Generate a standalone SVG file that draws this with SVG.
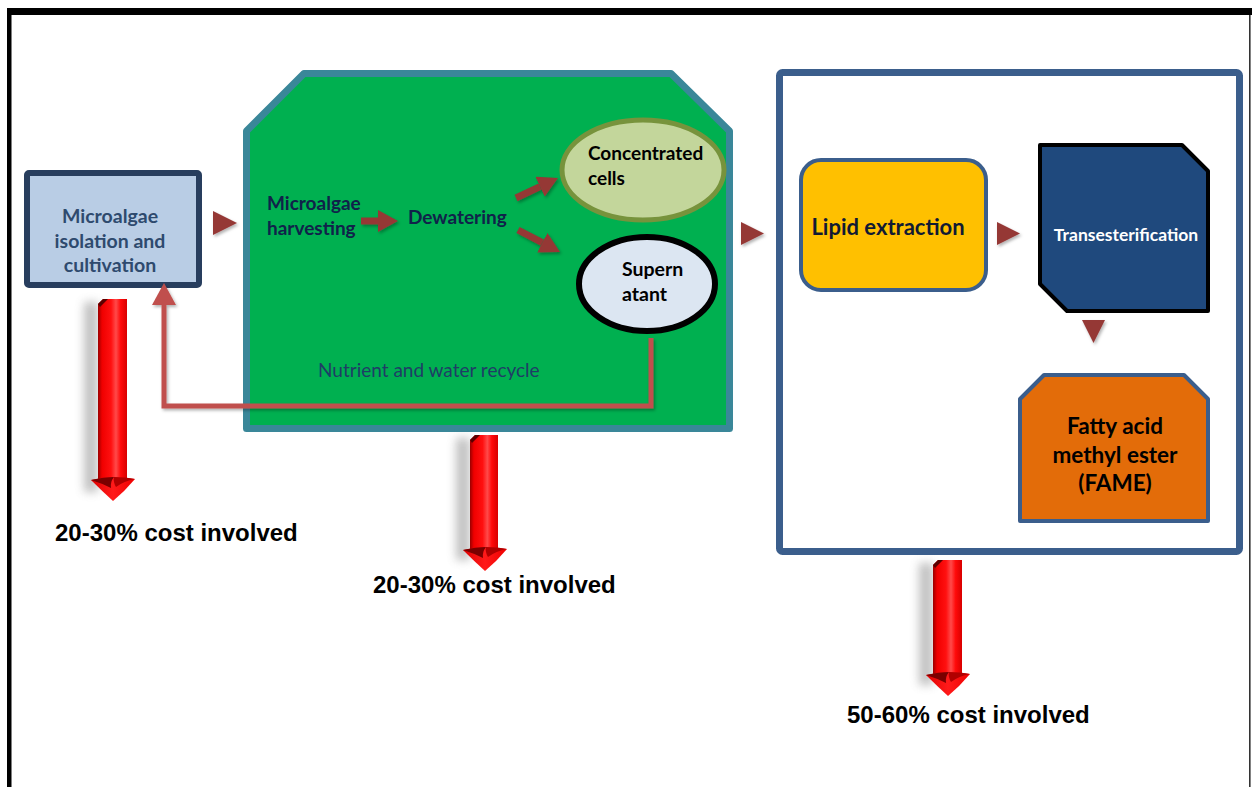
<svg xmlns="http://www.w3.org/2000/svg" xmlns:xlink="http://www.w3.org/1999/xlink" width="1252" height="787" viewBox="0 0 1252 787">
  <style>
    .calb { font-family: Lato, "Open Sans", "Liberation Sans", sans-serif; font-weight: bold; }
    .calr { font-family: Lato, "Open Sans", "Liberation Sans", sans-serif; font-weight: normal; }
    .cost { font-family: "Liberation Sans", Arial, sans-serif; font-weight: bold; font-size: 24px; fill: #000; }
    .flow { fill: #953735; filter: url(#soft); }
    .flowline { stroke: #953735; stroke-width: 7; fill: none; }
  </style>
  <defs>
    <filter id="soft" x="-30%" y="-30%" width="160%" height="160%">
      <feDropShadow dx="1.5" dy="2" stdDeviation="1.5" flood-color="#000" flood-opacity="0.3"/>
    </filter>
    <filter id="blur6" x="-100%" y="-20%" width="300%" height="140%">
      <feGaussianBlur stdDeviation="5"/>
    </filter>
    <linearGradient id="shaftGrad" x1="0" y1="0" x2="1" y2="0">
      <stop offset="0" stop-color="#9a0000"/>
      <stop offset="0.14" stop-color="#f00000"/>
      <stop offset="0.45" stop-color="#ff1010"/>
      <stop offset="0.62" stop-color="#ff4a4a"/>
      <stop offset="0.78" stop-color="#ff0a0a"/>
      <stop offset="1" stop-color="#d80000"/>
    </linearGradient>
    <linearGradient id="headGrad" x1="0" y1="0" x2="1" y2="0">
      <stop offset="0" stop-color="#e00000"/>
      <stop offset="0.5" stop-color="#ff1a1a"/>
      <stop offset="1" stop-color="#f00000"/>
    </linearGradient>
    <marker id="tri" viewBox="0 0 10 10" refX="0" refY="5" markerUnits="userSpaceOnUse" markerWidth="20" markerHeight="22" preserveAspectRatio="none" orient="auto">
      <path d="M0,0 L10,5 L0,10 Z" fill="#953735"/>
    </marker>
    <!-- head of the red cost arrow, local origin at the shaft's left edge / head top -->
    <g id="redHead">
      <path d="M-7,1 Q14,-4 37,0 Q27,12 15,22 Q4,12 -7,1 Z" fill="url(#headGrad)"/>
      <path d="M-7,1 Q6,-2 16,-2 Q12,3 13,9 Q3,4 -7,1 Z" fill="#7a0000"/>
      <path d="M16,-2 Q28,-2 37,0 Q26,2 18,8 Q15,3 16,-2 Z" fill="#b00000"/>
    </g>
  </defs>

  <!-- page frame -->
  <rect x="0" y="0" width="1252" height="787" fill="#fff"/>
  <rect x="7" y="8" width="1245" height="7" fill="#000"/>
  <rect x="7" y="8" width="4.5" height="779" fill="#000"/>
  <rect x="1249" y="15" width="1.6" height="772" fill="#333"/>

  <!-- cultivation -->
  <g id="cultivation">
    <rect x="27" y="173" width="172" height="112" rx="2" fill="#b9cde5" stroke="#283e5e" stroke-width="6"/>
    <g class="calb" font-size="19.5" fill="#2e4a6e" text-anchor="middle">
      <text x="110" y="223">Microalgae</text>
      <text x="110" y="248">isolation and</text>
      <text x="110" y="272">cultivation</text>
    </g>
  </g>

  <!-- harvesting stage -->
  <g id="harvesting">
    <path d="M246.5,131 L304,73.5 L671,73.5 L729.5,131 L729.5,428.5 L246.5,428.5 Z" fill="#00b050" stroke="#3a8799" stroke-width="7" stroke-linejoin="round"/>
    <g class="calb" font-size="19" fill="#10224a">
      <text x="267" y="210">Microalgae</text>
      <text x="267" y="235">harvesting</text>
      <text x="408" y="224">Dewatering</text>
    </g>
    <text class="calr" x="318" y="377" font-size="19" fill="#1f3d66">Nutrient and water recycle</text>
  </g>

  <g id="concentrated">
    <ellipse cx="643" cy="170" rx="81" ry="50" fill="#c3d69b" stroke="#77933c" stroke-width="5"/>
    <g class="calb" font-size="19" fill="#000">
      <text x="588" y="160">Concentrated</text>
      <text x="588" y="185">cells</text>
    </g>
  </g>

  <g id="supernatant">
    <ellipse cx="647" cy="284" rx="68" ry="47" fill="#dce6f2" stroke="#000" stroke-width="6"/>
    <g class="calb" font-size="19.5" fill="#000">
      <text x="622" y="276">Supern</text>
      <text x="622" y="301">atant</text>
    </g>
  </g>

  <!-- processing stage -->
  <g id="processing">
    <rect x="779.5" y="72.5" width="460" height="479" rx="3" fill="#fff" stroke="#3b5e8c" stroke-width="7"/>
  </g>

  <g id="lipid">
    <rect x="801" y="160" width="185" height="130" rx="20" fill="#ffc000" stroke="#3b5e8c" stroke-width="4"/>
    <text class="calb" x="888" y="235" font-size="22" fill="#111a33" text-anchor="middle">Lipid extraction</text>
  </g>

  <g id="transesterification">
    <path d="M1040,145 L1182,145 L1208,171 L1208,311 L1067,311 L1040,284 Z" fill="#1f497d" stroke="#000" stroke-width="4" stroke-linejoin="round"/>
    <text class="calb" x="1126" y="241" font-size="17.5" fill="#fff" text-anchor="middle">Transesterification</text>
  </g>

  <g id="fame">
    <path d="M1020,399 L1044,375 L1184,375 L1208,399 L1208,521 L1020,521 Z" fill="#e36c09" stroke="#3b5e8c" stroke-width="4" stroke-linejoin="round"/>
    <g class="calb" font-size="22.5" fill="#000" text-anchor="middle">
      <text x="1115" y="434">Fatty acid</text>
      <text x="1115" y="463">methyl ester</text>
      <text x="1115" y="491">(FAME)</text>
    </g>
  </g>

  <!-- connectors -->
  <g id="connectors">
    <polygon class="flow" points="213,211 237,223 213,235"/>
    <polygon class="flow" points="741,222 764,233.5 741,245"/>
    <polygon class="flow" points="997,222 1020,233.5 997,245"/>
    <polygon class="flow" points="1082,320 1105,320 1093.5,343"/>

    <g filter="url(#soft)">
      <line class="flowline" x1="361" y1="221" x2="378" y2="221" marker-end="url(#tri)"/>
      <line class="flowline" x1="516" y1="198" x2="540" y2="186.6" marker-end="url(#tri)"/>
      <line class="flowline" x1="518" y1="230" x2="542.3" y2="242.7" marker-end="url(#tri)"/>
    </g>

    <!-- nutrient and water recycle loop -->
    <g filter="url(#soft)">
      <path d="M651,338 V406 H164 V303" fill="none" stroke="#c0504d" stroke-width="5"/>
      <polygon points="152,305 176,305 164,283" fill="#c0504d"/>
    </g>
  </g>

  <!-- cost arrows -->
  <g id="cost-cultivation">
    <rect x="84" y="302" width="14" height="190" fill="#777" opacity="0.45" filter="url(#blur6)"/>
    <path d="M98,304 L103,299 L127,299 L127,482 L98,482 Z" fill="url(#shaftGrad)"/>
    <path d="M98,304 L103,299 L108,299 L100,307 Z" fill="#5a0000"/>
    <use xlink:href="#redHead" transform="translate(98,479)"/>
    <text class="cost" x="55" y="541">20-30% cost involved</text>
  </g>

  <g id="cost-harvesting">
    <rect x="456" y="438" width="14" height="122" fill="#777" opacity="0.45" filter="url(#blur6)"/>
    <path d="M470,440 L475,435 L498,435 L498,552 L470,552 Z" fill="url(#shaftGrad)"/>
    <path d="M470,440 L475,435 L480,435 L472,443 Z" fill="#5a0000"/>
    <use xlink:href="#redHead" transform="translate(470,549)"/>
    <text class="cost" x="373" y="593">20-30% cost involved</text>
  </g>

  <g id="cost-processing">
    <rect x="919" y="563" width="14" height="122" fill="#777" opacity="0.45" filter="url(#blur6)"/>
    <path d="M933,565 L938,560 L962,560 L962,677 L933,677 Z" fill="url(#shaftGrad)"/>
    <path d="M933,565 L938,560 L943,560 L935,568 Z" fill="#5a0000"/>
    <use xlink:href="#redHead" transform="translate(933,674)"/>
    <text class="cost" x="847" y="723">50-60% cost involved</text>
  </g>
</svg>
